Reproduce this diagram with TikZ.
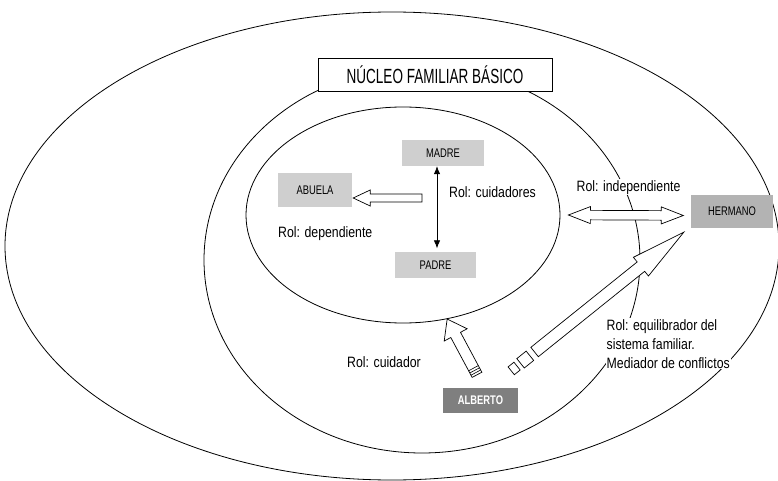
\documentclass[tikz,border=0pt]{standalone}
\usepackage{fontspec}
\setmainfont{Liberation Sans}[FakeStretch=0.82]
\newfontfamily\titleFont{Liberation Sans}[FakeStretch=0.66]
\newfontfamily\boxFont{Liberation Sans}[FakeStretch=0.75]
\usepackage{xcolor}
\usepackage{tikz}
\usetikzlibrary{arrows.meta,positioning,calc,shapes.geometric}
\definecolor{Ink}{HTML}{000000}
\definecolor{Member}{HTML}{CFCFCF}
\definecolor{MemberMid}{HTML}{B3B3B3}
\definecolor{MemberDark}{HTML}{7F7F7F}
\newcommand{\blockArrow}[5]{%
  \draw[blk] ($(#1)!#3!90:(#2)$)
    -- ($(#2)!#5!(#1)!#3!-90:(#1)$) -- ($(#2)!#5!(#1)!#4!-90:(#1)$)
    -- (#2)
    -- ($(#2)!#5!(#1)!#4!90:(#1)$) -- ($(#2)!#5!(#1)!#3!90:(#1)$)
    -- ($(#1)!#3!-90:(#2)$) -- cycle;}
\newcommand{\blockArrowBoth}[5]{%
  \draw[blk] (#1)
    -- ($(#1)!#5!(#2)!#4!90:(#2)$) -- ($(#1)!#5!(#2)!#3!90:(#2)$)
    -- ($(#2)!#5!(#1)!#3!-90:(#1)$) -- ($(#2)!#5!(#1)!#4!-90:(#1)$)
    -- (#2)
    -- ($(#2)!#5!(#1)!#4!90:(#1)$) -- ($(#2)!#5!(#1)!#3!90:(#1)$)
    -- ($(#1)!#5!(#2)!#3!-90:(#2)$) -- ($(#1)!#5!(#2)!#4!-90:(#2)$) -- cycle;}
\newcommand{\blockPiece}[5]{%
  \draw[blk] ($(#1)!#3!(#2)!#5!90:(#2)$) -- ($(#1)!#4!(#2)!#5!90:(#2)$)
    -- ($(#1)!#4!(#2)!#5!-90:(#2)$) -- ($(#1)!#3!(#2)!#5!-90:(#2)$) -- cycle;}
\tikzset{
  ring/.style={draw=Ink, ellipse, line width=.8pt, inner sep=0pt},
  member/.style={fill=Member, minimum height=26pt, inner sep=0pt,
    font=\boxFont\fontsize{12.5}{14}\selectfont},
  memberMid/.style={member, fill=MemberMid},
  memberDark/.style={member, fill=MemberDark, text=white,
    font=\boxFont\fontsize{12.5}{14}\selectfont\bfseries},
  role/.style={fill=white, inner sep=1pt, align=left,
    font=\fontsize{15}{19}\selectfont},
  titleBox/.style={draw=Ink, fill=white, line width=.8pt,
    minimum width=234pt, minimum height=33pt,
    font=\titleFont\fontsize{20.5}{24}\selectfont},
  blk/.style={draw=Ink, fill=white, line width=.7pt, line join=miter},
  pair/.style={{Latex[length=8pt,width=6.5pt]}-{Latex[length=8pt,width=6.5pt]},
    line width=.7pt, draw=Ink}
}

\begin{document}
\begin{tikzpicture}[x=1pt,y=-1pt]
  \useasboundingbox (0,0) rectangle (778,481);
  \node[ring,minimum width=774pt,minimum height=468pt] (outerRing) at (392,246) {};
  \node[ring,minimum width=436pt,minimum height=386pt] (familyRing) at (422,260) {};
  \node[ring,minimum width=314pt,minimum height=216pt] (coreRing) at (403,215) {};
  \node[titleBox] (nucleo) at (435,74.5) {NÚCLEO FAMILIAR BÁSICO};
  \node[member,minimum width=82pt] (madre) at (443,153) {MADRE};
  \node[member,minimum width=74pt,minimum height=34pt] (abuela) at (315,190) {ABUELA};
  \node[member,minimum width=81pt] (padre) at (435.5,265) {PADRE};
  \node[memberMid,minimum width=82pt,minimum height=33pt] (hermano) at (732,211.5) {HERMANO};
  \node[memberDark,minimum width=75pt,minimum height=25pt] (alberto) at (480.5,400.5) {ALBERTO};
  \draw[pair] ($(madre.south)+(-6,0)$) -- ($(padre.north)+(1.5,-3.5)$);
  \coordinate (abuelaFrom) at (422,198);
  \coordinate (abuelaTo) at ($(abuela.east)+(1,8)$);
  \blockArrow{abuelaFrom}{abuelaTo}{4pt}{8pt}{17pt}
  \coordinate (indepFrom) at ($(coreRing.east)+(8,0)$);
  \coordinate (indepTo) at ($(hermano.west)+(-7.5,4)$);
  \blockArrowBoth{indepFrom}{indepTo}{4.75pt}{8.5pt}{22pt}
  \coordinate (cuidadorFrom) at ($(alberto.north)+(-3.5,-13)$);
  \blockArrow{cuidadorFrom}{coreRing.-67}{5.5pt}{13pt}{18pt}
  \foreach \k in {2.5pt,5pt,7.5pt}
    \draw[line width=.6pt] ($(cuidadorFrom)!\k!(coreRing.-67)!5.5pt!90:(coreRing.-67)$)
      -- ($(cuidadorFrom)!\k!(coreRing.-67)!5.5pt!-90:(coreRing.-67)$);
  \coordinate (equilFrom) at ($(alberto.north east)+(-7,-17)$);
  \coordinate (equilTo) at ($(hermano.south west)+(-7,4)$);
  \coordinate (equilShaft) at ($(equilFrom)!30pt!(equilTo)$);
  \blockPiece{equilFrom}{equilTo}{0pt}{7.5pt}{5pt}
  \blockPiece{equilFrom}{equilTo}{12pt}{24pt}{6pt}
  \blockArrow{equilShaft}{equilTo}{6pt}{12pt}{55pt}
  \node[role,anchor=base west] (rolCuidadores) at (448,197) {Rol: cuidadores};
  \node[role,anchor=base west] (rolDependiente) at (277,237) {Rol: dependiente};
  \node[role,anchor=base west] (rolIndependiente) at (575.5,191) {Rol: independiente};
  \node[role,anchor=base west] (rolCuidador) at (346,367) {Rol: cuidador};
  \node[role,anchor=north west] (rolEquilibrador) at (605.5,318)
    {Rol: equilibrador del\\sistema familiar.\\Mediador de conflictos};
\end{tikzpicture}
\end{document}
